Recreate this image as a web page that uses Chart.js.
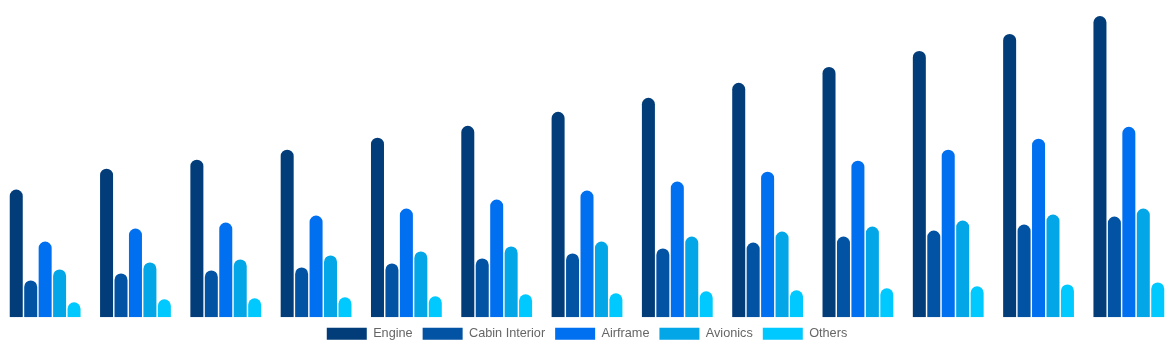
<!DOCTYPE html>
<html>
<head>
<meta charset="utf-8">
<script src="https://cdn.jsdelivr.net/npm/chart.js@4"></script>
<style>
    html, body { margin: 0; padding: 0; background: #fff; }
    #wrap { width: 1174px; height: 350px; }
</style>
</head>
<body>
<div id="wrap"><canvas id="chart"></canvas></div>
<script>
const labels = ['2023', '2024', '2025', '2026', '2027', '2028', '2029',
    '2030', '2031', '2032', '2033', '2034', '2035'];

const engine = [128, 149, 158, 168, 180, 192, 206, 220, 235, 251, 267, 284, 302];
const cabinInterior = [37, 44, 47, 50, 54, 59, 64, 69, 75, 81, 87, 93, 101];
const airframe = [76, 89, 95, 102, 109, 118, 127, 136, 146, 157, 168, 179, 191];
const avionics = [48, 55, 58, 62, 66, 71, 76, 81, 86, 91, 97, 103, 109];
const others = [15, 18, 19, 20, 21, 23, 24, 26, 27, 29, 31, 33, 35];

function series(label, color, values) {
    return {
        label: label,
        data: values,
        backgroundColor: color,
        borderColor: color,
        borderWidth: 0,
        borderRadius: { topLeft: 7, topRight: 7 },
        borderSkipped: 'bottom',
        barPercentage: 0.9,
        categoryPercentage: 0.8,
    };
}

const data = {
    labels: labels,
    datasets: [
        series('Engine', '#023d7a', engine),
        series('Cabin Interior', '#0353a4', cabinInterior),
        series('Airframe', '#006ff0', airframe),
        series('Avionics', '#03a6e6', avionics),
        series('Others', '#00c9ff', others),
    ]
};

const config = {
    type: 'bar',
    data: data,
    options: {
        responsive: true,
        maintainAspectRatio: false,
        animation: false,
        layout: { padding: { top: 16, left: 0, right: 0, bottom: 0 } },
        scales: {
            x: { display: false },
            y: { display: false, min: 0, max: 302 }
        },
        plugins: {
            tooltip: { enabled: false },
            legend: {
                position: 'bottom',
                labels: {
                    boxWidth: 40,
                    boxHeight: 12,
                    padding: 10,
                    color: '#666',
                    font: { family: 'Liberation Sans, Arial, sans-serif', size: 12.7 }
                }
            }
        }
    }
};

new Chart(document.getElementById('chart'), config);
</script>
</body>
</html>
